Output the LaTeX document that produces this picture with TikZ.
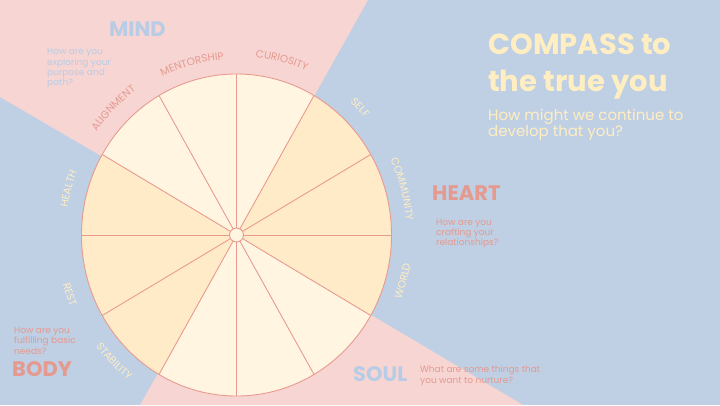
\documentclass[tikz,border=0pt]{standalone}
\usepackage{fontspec}
\setmainfont{Poppins}
\usetikzlibrary{decorations.text}
\definecolor{bgblue}{HTML}{BFCFE4}
\definecolor{bgpink}{HTML}{F6D5D3}
\definecolor{wlight}{HTML}{FFF5E1}
\definecolor{wdark}{HTML}{FFEBC8}
\definecolor{wline}{HTML}{E99A90}
\definecolor{salmon}{HTML}{E59A90}
\definecolor{cream}{HTML}{FFEEC2}
\definecolor{skyblue}{HTML}{B9CCE6}
\newcommand\labfont{\fontsize{10.5}{12}\selectfont}
\newcommand\toplab[4]{% angle, radius offset, colour, text
  \path[decorate,decoration={text along path,text align=center,text={|\labfont\color{#3}|#4}}]
    (C) ++(#1+20:170pt+#2pt and 176pt+#2pt)
    arc[start angle=#1+20,end angle=#1-20,x radius=170pt+#2pt,y radius=176pt+#2pt];}
\newcommand\botlab[4]{%
  \path[decorate,decoration={text along path,text align=center,text={|\labfont\color{#3}|#4}}]
    (C) ++(#1-20:176pt+#2pt and 182pt+#2pt)
    arc[start angle=#1-20,end angle=#1+20,x radius=176pt+#2pt,y radius=182pt+#2pt];}
\tikzset{
  spoke/.style={draw=wline,line width=0.9pt},
  hub/.style={circle,minimum size=14pt,inner sep=0pt,fill=wlight,draw=wline,line width=0.9pt},
  titletext/.style={inner sep=0pt,anchor=base west,text=cream,font=\bfseries\fontsize{29}{35}\selectfont},
  subtext/.style={inner sep=0pt,anchor=base west,text=cream,font=\fontsize{15}{18}\selectfont},
  heading/.style={inner sep=0pt,anchor=base west,font=\bfseries\fontsize{21}{24}\selectfont},
  question/.style={inner sep=0pt,anchor=base west,font=\fontsize{9}{10}\selectfont},
}
\begin{document}
\begin{tikzpicture}[x=1pt,y=1pt]
\useasboundingbox (0,0) rectangle (720,405);
\fill[bgblue] (0,0) rectangle (720,405);
\coordinate (C) at (236.5,170);
\fill[bgpink] (0,405) -- (368,405) -- (C) -- (0,308) -- cycle;
\fill[bgpink] (140,0) -- (523,0) -- (C) -- cycle;
% wedges
\foreach \a/\c in {0/wdark,30/wdark,60/wlight,90/wlight,120/wlight,150/wdark,180/wdark,210/wdark,240/wlight,270/wlight,300/wlight,330/wdark}
  \fill[\c] (C) -- ++(\a:155pt and 161pt) arc[start angle=\a,end angle=\a+30,x radius=155pt,y radius=161pt] -- cycle;
\foreach \a in {0,30,...,330}
  \draw[spoke] (C) -- ++(\a:155pt and 161pt);
\draw[spoke] (C) ellipse[x radius=155pt,y radius=161pt];
\node[hub] (hub) at (C) {};
% segment labels
\toplab{75}{3}{salmon}{CURIOSITY}
\toplab{105}{0}{salmon}{MENTORSHIP}
\toplab{135}{2}{salmon}{ALIGNMENT}
\toplab{45}{1}{cream}{SELF}
\toplab{15}{0}{cream}{COMMUNITY}
\toplab{165}{1}{cream}{HEALTH}
\botlab{-15}{0}{cream}{WORLD}
\botlab{199}{4}{cream}{REST}
\botlab{225}{1}{cream}{STABILITY}
% title
\node[titletext] (t1) at (488,350) {COMPASS to};
\node[titletext] (t2) at (488,313.5) {the true you};
\node[subtext] (s1) at (488,284.5) {How might we continue to};
\node[subtext] (s2) at (488,269) {develop that you?};
% MIND
\node[heading,text=skyblue] (mind) at (109,368) {MIND};
\node[question,text=skyblue] (mq1) at (47,350) {How are you};
\node[question,text=skyblue] (mq2) at (47,339.7) {exploring your};
\node[question,text=skyblue] (mq3) at (47,329.4) {purpose and};
\node[question,text=skyblue] (mq4) at (47,319) {path?};
% HEART
\node[heading,text=salmon] (heart) at (432,205) {HEART};
\node[question,text=salmon] (hq1) at (436,180) {How are you};
\node[question,text=salmon] (hq2) at (436,170) {crafting your};
\node[question,text=salmon] (hq3) at (436,160) {relationships?};
% SOUL
\node[heading,text=skyblue] (soul) at (353,24) {SOUL};
\node[question,text=salmon] (sq1) at (420,33) {What are some things that};
\node[question,text=salmon] (sq2) at (420,22) {you want to nurture?};
% BODY
\node[heading,text=salmon] (body) at (12,29) {BODY};
\node[question,text=salmon] (bq1) at (14,72) {How are you};
\node[question,text=salmon] (bq2) at (14,61.5) {fulfilling basic};
\node[question,text=salmon] (bq3) at (14,51) {needs?};
\end{tikzpicture}
\end{document}
